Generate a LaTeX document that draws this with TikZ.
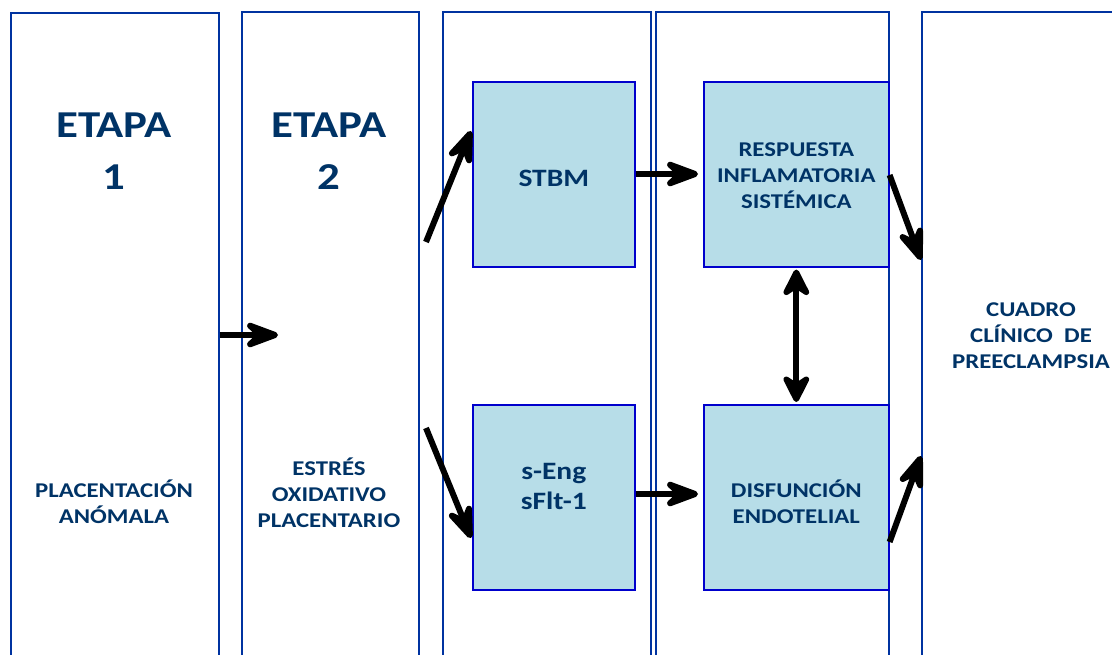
\documentclass[tikz,border=0pt]{standalone}
\usepackage{fontspec}
\setmainfont{Carlito}[FakeStretch=1.18]
\usepackage{xcolor}
\usepackage{tikz}
\usetikzlibrary{arrows.meta,positioning,calc}

\definecolor{textblue}{RGB}{0,51,102}
\definecolor{panelblue}{RGB}{0,51,160}
\definecolor{boxblue}{RGB}{0,0,204}
\definecolor{boxfill}{RGB}{183,221,232}

\begin{document}
\begin{tikzpicture}[
    x=1pt, y=-1pt,
    panel/.style={rectangle, draw=panelblue, line width=1.6pt, anchor=north west, inner sep=0pt, minimum height=700pt},
    stagebox/.style={rectangle, draw=boxblue, fill=boxfill, line width=1.6pt, anchor=north west, inner sep=0pt, minimum width=162pt, minimum height=185pt},
    bigtxt/.style={text=textblue, font=\bfseries\fontsize{38}{52}\selectfont, align=center, inner sep=0pt},
    smalltxt/.style={text=textblue, font=\bfseries\fontsize{21}{26}\selectfont, align=center, inner sep=0pt},
    midtxt/.style={text=textblue, font=\bfseries\fontsize{25}{30}\selectfont, align=center, inner sep=0pt},
    flowarrow/.style={draw=black, line width=6pt, -{Stealth[length=46pt, width=34pt, inset=18pt, round]}},
    twoway/.style={draw=black, line width=6pt, {Stealth[length=34pt, width=34pt, inset=11pt, round]}-{Stealth[length=34pt, width=34pt, inset=11pt, round]}}
]
    \clip (0,0) rectangle (1112,655);

    % Panels
    \node[panel, minimum width=208pt] (p1) at (10,12) {};
    \node[panel, minimum width=177pt] (p2) at (241,11) {};
    \node[panel, minimum width=208pt] (p3) at (442,11) {};
    \node[panel, minimum width=233pt] (p4) at (655,11) {};
    \node[panel, minimum width=260pt] (p5) at (921,11) {};

    % Stage titles
    \node[bigtxt] (etapa1) at (114,151) {ETAPA\\1};
    \node[bigtxt] (etapa2) at (329,151) {ETAPA\\2};

    % Panel texts
    \node[smalltxt] (placenta) at (114,502) {PLACENTACIÓN\\ANÓMALA};
    \node[smalltxt] (estres) at (329,493) {ESTRÉS\\OXIDATIVO\\PLACENTARIO};
    \node[smalltxt] (cuadro) at (1031,336) {CUADRO\\CLÍNICO\ \ DE\\PREECLAMPSIA};

    % Boxes
    \node[stagebox] (stbm) at (472,81) {};
    \node[midtxt] at ($(stbm.center)+(0,4)$) {STBM};
    \node[stagebox] (seng) at (472,404) {};
    \node[midtxt] at ($(seng.center)+(0,-11)$) {s-Eng\\sFlt-1};
    \node[stagebox, minimum width=185pt] (resp) at (703,81) {};
    \node[smalltxt] at ($(resp.center)+(0,1)$) {RESPUESTA\\INFLAMATORIA\\SISTÉMICA};
    \node[stagebox, minimum width=185pt] (disf) at (703,404) {};
    \node[smalltxt] at ($(disf.center)+(0,4)$) {DISFUNCIÓN\\ENDOTELIAL};

    % Free ends
    \coordinate (a1end) at (278,335);
    \coordinate (upstart) at (426,242);
    \coordinate (downstart) at (426,428);

    % Arrows
    \path[flowarrow] (p1.east |- a1end) -- (a1end);
    \path[flowarrow] (upstart) -- ($(stbm.west |- 0,131)+(-1,0)$);
    \path[flowarrow] (downstart) -- ($(seng.west |- 0,538)+(-1,0)$);
    \path[flowarrow] (stbm.east |- 0,174) -- ($(resp.west |- 0,174)+(-5,0)$);
    \path[flowarrow] (seng.east |- 0,494) -- ($(disf.west |- 0,494)+(-5,0)$);
    \path[twoway] ($(resp.south)+(0,2)$) -- ($(disf.north)+(0,-2)$);
    \path[flowarrow] (resp.east |- 0,175) -- (p5.west |- 0,260);
    \path[flowarrow] (disf.east |- 0,542) -- (p5.west |- 0,456);
\end{tikzpicture}
\end{document}
